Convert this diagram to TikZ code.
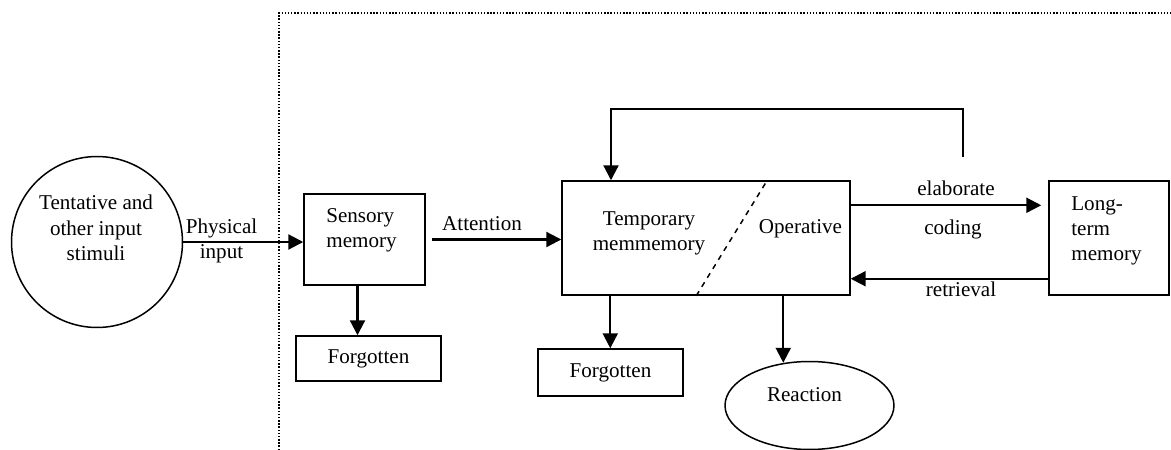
\documentclass[tikz,border=0pt]{standalone}
\usepackage{fontspec}
\setmainfont{Liberation Serif}
\usetikzlibrary{calc,arrows.meta,shapes.geometric}

\tikzset{
	box/.style={draw, line width=0.85pt, inner sep=0pt},
	arr/.style={line width=1.25pt, -{Triangle[length=0.3cm,width=0.3cm]}},
	txt/.style={inner sep=0pt, font=\fontsize{12}{14.4}\selectfont},
}

\begin{document}
\begin{tikzpicture}[x=0.02cm,y=-0.02cm]
	\useasboundingbox (0,0) rectangle (1171,450);
	\draw[densely dotted, line width=0.8pt] (279,450)--(279,13)--(1172,13);
	% shapes
	\node[box, circle, minimum size=3.42cm] (stim) at (97,242) {};
	\node[box, minimum width=2.42cm, minimum height=1.82cm] (sens) at (364.5,239.5) {};
	\node[box, txt, minimum width=2.9cm, minimum height=0.9cm] (forg1) at (368.5,358.5) {Forgotten};
	\node[box, minimum width=5.76cm, minimum height=2.28cm] (temp) at (706,238) {};
	\node[box, minimum width=2.4cm, minimum height=2.28cm] (ltm) at (1109,238) {};
	\node[box, txt, minimum width=2.9cm, minimum height=0.94cm] (forg2) at (610.5,372.5) {Forgotten};
	\node[box, ellipse, minimum width=3.38cm, minimum height=1.76cm] (reac) at (809.5,405.5) {};
	\draw[dashed, line width=0.85pt] ($(temp.south west)+(135,0)$) -- ($(temp.north west)+(206,0)$);
	% texts
	\node[txt, align=center] (stimtxt) at (96,228) {Tentative and\\other input\\stimuli};
	\node[txt, align=center] (phys) at (221.5,241) {Physical\\input};
	\node[txt, align=left, anchor=west] (senstxt) at (326,230) {Sensory\\memory};
	\node[txt] (att) at (482,224) {Attention};
	\node[txt, align=center] (temptxt) at (649,233.5) {Temporary\\memmemory};
	\node[txt] (oper) at (800.5,229) {Operative};
	\node[txt] (elab) at (956,188) {elaborate};
	\node[txt] (cod) at (953,229) {coding};
	\node[txt] (retr) at (961,289) {retrieval};
	\node[txt, align=left, anchor=west] (ltmtxt) at (1071,231) {Long-\\term\\memory};
	\node[txt] (reactxt) at (804.5,395) {Reaction};
	% connectors
	\coordinate (s1) at ($(sens.south)+(-7,0)$);
	\coordinate (t1) at ($(temp.south west)+(49,0)$);
	\coordinate (t2) at ($(temp.south west)+(222,0)$);
	\coordinate (r1) at ($(t2 |- reac.north)+(0,2)$);
	\draw[arr] (stim.east) -- (stim.east -| sens.west);
	\draw[arr] ($(sens.east)+(6,0)$) -- (temp.west |- sens.east);
	\draw[arr] (s1) -- (s1 |- forg1.north);
	\draw[arr] (t1) -- (t1 |- forg2.north);
	\draw[arr] (t2) -- (r1);
	\draw[arr] ($(temp.north east)+(0,25)$) -- ($(ltm.north west)+(-7,25)$);
	\draw[arr] ($(ltm.south west)+(0,-17)$) -- ($(temp.south east)+(0,-17)$);
	\coordinate (fb) at (963,157);
	\coordinate (fbtop) at (611,109);
	\draw[arr] (fb) |- (fbtop) -- (fbtop |- temp.north);
\end{tikzpicture}
\end{document}
